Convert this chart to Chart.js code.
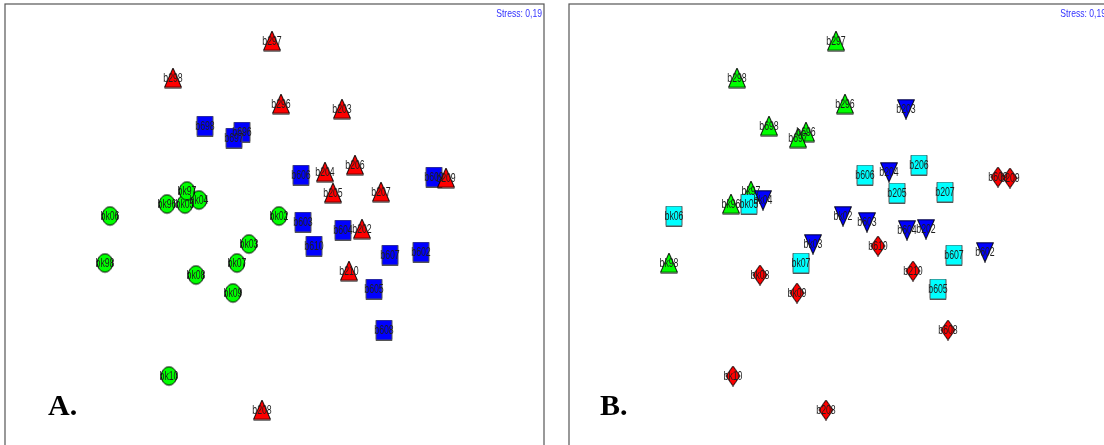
<!DOCTYPE html>
<html>
<head>
<meta charset="utf-8">
<script src="https://cdn.jsdelivr.net/npm/chart.js@4"></script>
<style>
  html, body { margin: 0; padding: 0; background: #fff; overflow: hidden; width: 1104px; height: 445px; }
  .panel { position: absolute; top: 0; width: 552px; height: 480px; }
  #panelA { left: 0; }
  #panelB { left: 564px; }
</style>
</head>
<body>
<div class="panel" id="panelA"><canvas id="chartA"></canvas></div>
<div class="panel" id="panelB"><canvas id="chartB"></canvas></div>
<script>
// NMDS ordination, same site scores in both panels
const sites = ['bk02', 'bk03', 'bk04', 'bk05', 'bk06', 'bk07', 'bk08', 'bk09', 'bk10', 'bk96', 'bk97', 'bk98',
               'b202', 'b203', 'b204', 'b205', 'b206', 'b207', 'b208', 'b209', 'b210', 'b296', 'b297', 'b298',
               'b602', 'b603', 'b604', 'b605', 'b606', 'b607', 'b608', 'b609', 'b610', 'b696', 'b697', 'b698'];
const nmds1 = [0.04, -0.26, -0.76, -0.90, -1.65, -0.38, -0.79, -0.42, -1.06, -1.08, -0.88, -1.70,
               0.87, 0.67, 0.50, 0.58, 0.80, 1.06, -0.13, 1.71, 0.74, 0.06, -0.03, -1.02,
               1.46, 0.28, 0.68, 0.99, 0.26, 1.15, 1.09, 1.59, 0.39, -0.33, -0.41, -0.70];
const nmds2 = [0.09, -0.19, 0.25, 0.21, 0.09, -0.38, -0.50, -0.68, -1.51, 0.21, 0.34, -0.38,
               -0.04, 1.16, 0.53, 0.32, 0.60, 0.33, -1.85, 0.47, -0.46, 1.21, 1.84, 1.47,
               -0.27, 0.03, -0.05, -0.64, 0.50, -0.30, -1.05, 0.48, -0.21, 0.93, 0.87, 0.99];
// panel A: 1 = bk (circles), 2 = b6 (squares), 3 = b2 (triangles)
const groupA = [1, 1, 1, 1, 1, 1, 1, 1, 1, 1, 1, 1,
                3, 3, 3, 3, 3, 3, 3, 3, 3, 3, 3, 3,
                2, 2, 2, 2, 2, 2, 2, 2, 2, 2, 2, 2];
// panel B: 1 = green up, 2 = cyan squares, 3 = blue down, 4 = red diamonds
const groupB = [3, 3, 3, 2, 2, 2, 4, 4, 4, 1, 1, 1,
                3, 3, 3, 2, 2, 2, 4, 4, 4, 1, 1, 1,
                3, 3, 3, 2, 2, 2, 4, 4, 4, 1, 1, 1];
const stressText = 'Stress: 0,19';

function marker(shape, fill, stroke) {
    const c = document.createElement('canvas');
    const w = shape === 'diamond' ? 16 : 18;
    const h = 21;
    c.width = w; c.height = h;
    const g = c.getContext('2d');
    g.fillStyle = fill;
    g.strokeStyle = stroke;
    g.lineWidth = 1;
    g.beginPath();
    if (shape === 'circle') {
        g.ellipse(w / 2, h / 2, 7.8, 9.2, 0, 0, Math.PI * 2);
    } else if (shape === 'square') {
        g.rect(1, 0.5, 16, 20);
    } else if (shape === 'up') {
        g.moveTo(w / 2, 0.5); g.lineTo(w - 0.5, h - 1); g.lineTo(0.5, h - 1); g.closePath();
    } else if (shape === 'down') {
        g.moveTo(0.5, 1); g.lineTo(w - 0.5, 1); g.lineTo(w / 2, h - 0.5); g.closePath();
    } else if (shape === 'diamond') {
        g.moveTo(w / 2, 0.5); g.lineTo(w - 1, h / 2); g.lineTo(w / 2, h - 0.5); g.lineTo(1, h / 2); g.closePath();
    }
    g.fill();
    g.stroke();
    return c;
}

const stylesA = {
    3: marker('up', '#ff0000', '#000'),
    2: marker('square', '#0000ff', '#555'),
    1: marker('circle', '#00ff00', '#000')
};
const stylesB = {
    3: marker('down', '#0000ff', '#000'),
    2: marker('square', '#00ffff', '#555'),
    1: marker('up', '#00ff00', '#000'),
    4: marker('diamond', '#ff0000', '#000')
};

// first dataset ends up on top
function buildDatasets(groups, styles, drawOrder) {
    return drawOrder.map(code => ({
        data: sites.map((s, i) => ({ x: nmds1[i], y: nmds2[i], site: s })).filter((p, i) => groups[i] === code),
        pointStyle: styles[code],
        pointRadius: 10,
        pointHoverRadius: 10,
        showLine: false
    }));
}

const panelDecor = {
    id: 'panelDecor',
    afterDatasetsDraw(chart, args, opts) {
        const ctx = chart.ctx;
        const area = chart.chartArea;
        ctx.save();
        // site labels
        ctx.font = '12.5px "Liberation Sans"';
        ctx.fillStyle = '#1e1e1e';
        ctx.textAlign = 'center';
        ctx.textBaseline = 'middle';
        chart.data.datasets.forEach((ds, i) => {
            chart.getDatasetMeta(i).data.forEach((pt, j) => {
                ctx.save();
                ctx.translate(pt.x, pt.y + 1);
                ctx.scale(0.7, 1);
                ctx.fillText(ds.data[j].site, 0, 0);
                ctx.restore();
            });
        });
        // frame
        ctx.strokeStyle = '#555';
        ctx.lineWidth = 1.2;
        ctx.strokeRect(area.left, area.top, area.right - area.left, area.bottom - area.top);
        // stress
        ctx.save();
        ctx.font = '11px "Liberation Sans"';
        ctx.fillStyle = '#3333ff';
        ctx.textAlign = 'right';
        ctx.translate(area.right - 2, area.top + 10);
        ctx.scale(0.78, 1);
        ctx.fillText(stressText, 0, 0);
        ctx.restore();
        // panel letter
        ctx.font = 'bold 30px "Liberation Serif"';
        ctx.fillStyle = '#000';
        ctx.textAlign = 'left';
        ctx.textBaseline = 'alphabetic';
        ctx.fillText(opts.letter, opts.letterX, 415);
        ctx.restore();
    }
};

function makeChart(id, datasets, letter, letterX) {
    return new Chart(document.getElementById(id), {
        type: 'scatter',
        data: { datasets: datasets },
        options: {
            responsive: true,
            maintainAspectRatio: false,
            animation: false,
            events: [],
            layout: { autoPadding: false, padding: { left: 5, top: 4, right: 8, bottom: 15 } },
            scales: {
                x: { type: 'linear', min: -2.70, max: 2.69, display: false },
                y: { type: 'linear', min: -2.40, max: 2.21, display: false }
            },
            plugins: {
                legend: { display: false },
                tooltip: { enabled: false },
                panelDecor: { letter: letter, letterX: letterX }
            }
        },
        plugins: [panelDecor]
    });
}

makeChart('chartA', buildDatasets(groupA, stylesA, [3, 2, 1]), 'A.', 48);
makeChart('chartB', buildDatasets(groupB, stylesB, [3, 2, 1, 4]), 'B.', 36);
</script>
</body>
</html>
